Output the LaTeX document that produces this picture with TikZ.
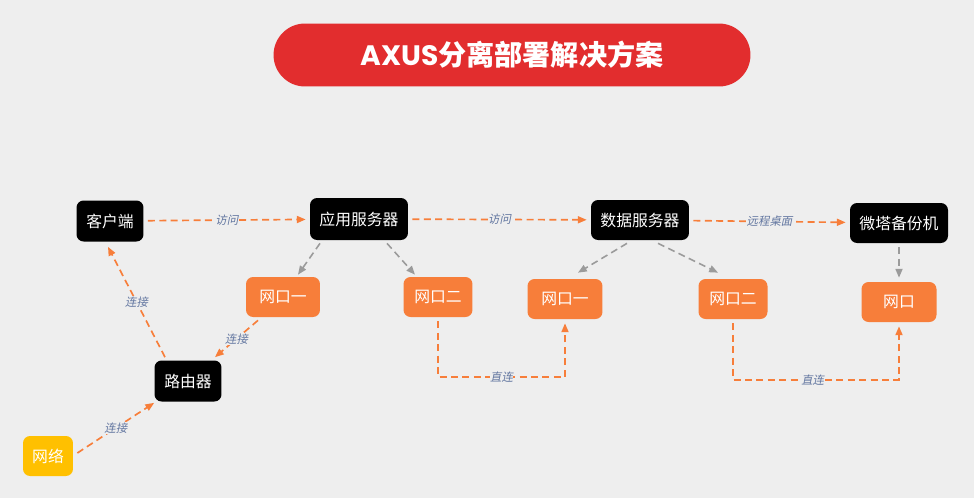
\documentclass[tikz,border=0pt]{standalone}
\usepackage{fontspec}
\setmainfont{Noto Sans CJK SC}
\newfontfamily\titlefont{Poppins}
\newfontfamily\lblfont[FakeSlant=0.2]{Noto Sans CJK SC}
\usetikzlibrary{arrows.meta}
\definecolor{bgc}{RGB}{238,238,238}
\definecolor{redc}{RGB}{226,45,46}
\definecolor{orgc}{RGB}{247,126,58}
\definecolor{yelc}{RGB}{255,192,0}
\definecolor{grayc}{RGB}{155,155,155}
\definecolor{lblc}{RGB}{98,118,160}
\tikzset{
	blk/.style={fill=black,text=white,rounded corners=4pt,minimum width=1.96cm,minimum height=0.82cm,inner sep=0pt,font=\fontsize{9}{10}\selectfont},
	org/.style={blk,fill=orgc,minimum width=1.48cm,minimum height=0.8cm},
	link/.style={draw=orgc,line width=0.95pt,dash pattern=on 4pt off 2.5pt,-{Triangle[length=5pt,width=4pt]},shorten >=0.08cm,shorten <=0.08cm},
	sub/.style={draw=grayc,line width=0.9pt,dash pattern=on 4pt off 2.5pt,-{Triangle[length=5pt,width=4pt]}},
	lbl/.style={font=\lblfont\fontsize{6.5}{7}\selectfont,text=lblc,inner sep=0.3pt,fill=bgc}
}
\begin{document}
\begin{tikzpicture}[x=0.02cm,y=-0.02cm]
			\fill[bgc] (0,0) rectangle (974,498);
			\useasboundingbox (0,0) rectangle (974,498);
			% 标题
			\node[fill=redc,text=white,rounded corners=0.63cm,minimum width=9.54cm,minimum height=1.26cm,font=\fontsize{16}{18}\selectfont\bfseries] (title) at (512,55) {{\titlefont\bfseries AXUS}分离部署解决方案};
			% 上排
			\node[blk,minimum width=1.34cm] (cli) at (110,221) {客户端};
			\node[blk,minimum height=0.84cm] (app) at (359,219) {应用服务器};
			\node[blk,minimum height=0.8cm] (db) at (640,220) {数据服务器};
			\node[blk,minimum height=0.8cm] (bak) at (899,223) {微塔备份机};
			% 网口
			\node[org] (appA) at (283,297) {网口一};
			\node[org,minimum width=1.38cm] (appB) at (438,297) {网口二};
			\node[org,minimum width=1.5cm] (dbA) at (565,299) {网口一};
			\node[org,minimum width=1.38cm] (dbB) at (733,299) {网口二};
			\node[org,minimum width=1.5cm] (bakA) at (899,302) {网口};
			% 下方
			\node[blk,minimum width=1.34cm] (rt) at (188,381) {路由器};
			\node[blk,fill=yelc,minimum width=1cm,minimum height=0.8cm] (net) at (48,456) {网络};
			% 访问
			\draw[link] (cli) -- (app) node[lbl,midway]{访问};
			\draw[link] (app) -- (db) node[lbl,midway]{访问};
			\draw[link] (db) -- (bak) node[lbl,midway]{远程桌面};
			\draw[sub] ([xshift=-0.78cm,yshift=-0.06cm]app.south) -- ([xshift=0.3cm,yshift=0.04cm]appA.north);
			\draw[sub] ([xshift=0.56cm,yshift=-0.06cm]app.south) -- ([xshift=-0.46cm,yshift=0.04cm]appB.north);
			\draw[sub] ([xshift=-0.26cm,yshift=-0.06cm]db.south) -- ([xshift=0.26cm,yshift=0.12cm]dbA.north);
			\draw[sub] ([xshift=0.36cm,yshift=-0.06cm]db.south) -- ([xshift=-0.3cm,yshift=0.12cm]dbB.north);
			\draw[sub] ([yshift=-0.08cm]bak.south) -- ([yshift=0.08cm]bakA.north);
			% 直连
			\draw[link] (appB.south) -- ++(0,59.5) -| (dbA.south) node[lbl,pos=0.25]{直连};
			\draw[link] (dbB.south) -- ++(0,60.5) -| (bakA.south) node[lbl,pos=0.24]{直连};
			% 连接
			\draw[link,shorten <=0cm,shorten >=0cm] ([xshift=-0.5cm,yshift=-0.06cm]appA.south) -- ([xshift=0.54cm,yshift=0.06cm]rt.north) node[lbl,midway]{连接};
			\draw[link,shorten <=0cm,shorten >=0cm] ([xshift=-0.46cm,yshift=0.06cm]rt.north) -- ([xshift=-0.04cm,yshift=-0.1cm]cli.south) node[lbl,midway]{连接};
			\draw[link,shorten <=0cm,shorten >=0cm] ([xshift=0.08cm,yshift=0.06cm]net.east) -- ([yshift=-0.02cm]rt.south west) node[lbl,midway]{连接};
		\end{tikzpicture}
\end{document}
